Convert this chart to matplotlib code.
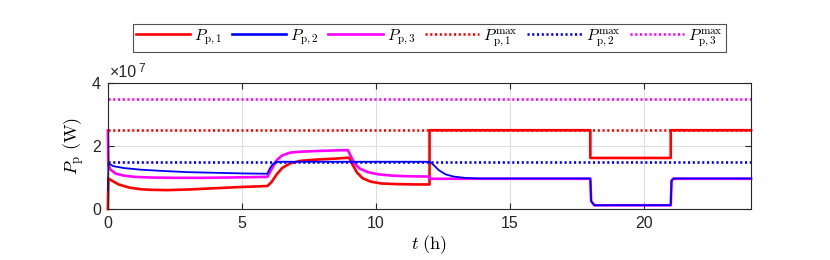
import matplotlib
matplotlib.use("Agg")
import matplotlib.pyplot as plt
from matplotlib.ticker import FuncFormatter

plt.rcParams['font.family'] = ['Liberation Sans', 'DejaVu Sans']
plt.rcParams['mathtext.fontset'] = 'cm'

# time points (h) and power values (W)
t1 = [0, 0.02, 0.15, 0.4, 0.8, 1.2, 1.6, 2.2, 3.0, 4.0, 5.0, 5.95,
      6.1, 6.3, 6.5, 6.8, 7.2, 7.8, 8.5, 9.0,
      9.1, 9.3, 9.5, 9.8, 10.2, 10.8, 11.5, 12.0,
      12.0, 18.0, 18.0, 21.0, 21.0, 24.0]
p1 = [0, 0.97e7, 0.90e7, 0.78e7, 0.68e7, 0.63e7, 0.61e7, 0.60e7, 0.62e7, 0.66e7, 0.70e7, 0.73e7,
      0.85e7, 1.10e7, 1.30e7, 1.45e7, 1.53e7, 1.57e7, 1.60e7, 1.63e7,
      1.45e7, 1.15e7, 0.98e7, 0.87e7, 0.81e7, 0.79e7, 0.78e7, 0.78e7,
      2.5e7, 2.5e7, 1.62e7, 1.62e7, 2.5e7, 2.5e7]

t2 = [0, 0.02, 0.2, 0.6, 1.2, 2.0, 3.0, 4.0, 5.0, 5.95,
      6.05, 6.15, 6.25, 6.4, 12.0,
      12.15, 12.35, 12.6, 12.9, 13.3, 13.8, 18.0,
      18.03, 18.15, 21.0, 21.03, 21.1, 24.0]
p2 = [0.6e7, 1.45e7, 1.36e7, 1.30e7, 1.25e7, 1.21e7, 1.17e7, 1.15e7, 1.13e7, 1.12e7,
      1.30e7, 1.42e7, 1.48e7, 1.5e7, 1.5e7,
      1.40e7, 1.23e7, 1.10e7, 1.03e7, 0.99e7, 0.97e7, 0.97e7,
      0.25e7, 0.12e7, 0.12e7, 0.90e7, 0.97e7, 0.97e7]

t3 = [0, 0.02, 0.1, 0.3, 0.6, 1.0, 1.6, 2.5, 3.5, 4.5, 5.95,
      6.1, 6.3, 6.5, 6.8, 7.2, 7.8, 8.5, 8.95,
      9.05, 9.2, 9.4, 9.7, 10.1, 10.6, 11.2, 12.0,
      12.0, 18.0, 18.03, 18.15, 21.0, 21.03, 21.1, 24.0]
p3 = [2.5e7, 1.40e7, 1.25e7, 1.12e7, 1.06e7, 1.02e7, 1.00e7, 0.99e7, 0.99e7, 1.00e7, 1.02e7,
      1.25e7, 1.55e7, 1.70e7, 1.79e7, 1.82e7, 1.84e7, 1.86e7, 1.87e7,
      1.70e7, 1.45e7, 1.28e7, 1.17e7, 1.10e7, 1.06e7, 1.04e7, 1.03e7,
      0.96e7, 0.96e7, 0.25e7, 0.12e7, 0.12e7, 0.90e7, 0.96e7, 0.96e7]

p1_max = 2.5e7
p2_max = 1.5e7
p3_max = 3.5e7

fig = plt.figure(figsize=(8.3, 2.6), dpi=100)
ax = fig.add_axes([0.130, 0.196, 0.775, 0.485])

lw = 1.9
dot = (0, (0.8, 1.0))
ax.plot(t1, p1, color='#ff0000', lw=lw, clip_on=False, label=r'$P_{\mathrm{p},1}$')
ax.plot(t3, p3, color='#ff00ff', lw=lw, clip_on=False, label=r'$P_{\mathrm{p},3}$')
ax.plot(t2, p2, color='#0000ff', lw=1.3, clip_on=False, label=r'$P_{\mathrm{p},2}$')
ax.axhline(p1_max, color='#ff0000', lw=lw, ls=dot, label=r'$P_{\mathrm{p},1}^{\mathrm{max}}$')
ax.axhline(p2_max, color='#0000ff', lw=lw, ls=dot, label=r'$P_{\mathrm{p},2}^{\mathrm{max}}$')
ax.axhline(p3_max, color='#ff00ff', lw=lw, ls=dot, label=r'$P_{\mathrm{p},3}^{\mathrm{max}}$')

ax.set_xlim(0, 24)
ax.set_ylim(0, 4e7)
ax.set_xticks([0, 5, 10, 15, 20])
ax.set_yticks([0, 2e7, 4e7])
ax.yaxis.set_major_formatter(FuncFormatter(lambda v, p: f'{v / 1e7:g}'))
ax.text(0.003, 1.022, '×10', transform=ax.transAxes, fontsize=11.5, color='#262626', va='bottom')
ax.text(0.047, 1.06, '7', transform=ax.transAxes, fontsize=8.5, color='#262626', va='bottom')

ax.grid(True, color='#dedede', lw=0.8)
ax.set_axisbelow(True)
ax.tick_params(direction='in', top=True, right=True, length=4, width=0.8,
               labelsize=11.5, colors='#262626', pad=5)
for s in ax.spines.values():
    s.set_color('#262626')
    s.set_linewidth(0.8)

ax.set_xlabel(r'$t\ \mathrm{(h)}$', fontsize=13, labelpad=2)
ax.set_ylabel(r'$P_\mathrm{p}\ \mathrm{(W)}$', fontsize=13, labelpad=4)

# legend order as in the reference
h, l = ax.get_legend_handles_labels()
order = [0, 2, 1, 3, 4, 5]
h = [h[i] for i in order]
l = [l[i] for i in order]
h[1] = plt.Line2D([], [], color='#0000ff', lw=lw)
leg = fig.legend(h, l, loc='center', bbox_to_anchor=(0.5175, 0.854), ncol=6, fontsize=11.5,
                 frameon=True, fancybox=False, edgecolor='#262626', handlelength=3.4,
                 columnspacing=0.6, handletextpad=0.25, borderpad=0.2, borderaxespad=0)
leg.get_frame().set_linewidth(0.8)

fig.savefig('out.png', dpi=100)
